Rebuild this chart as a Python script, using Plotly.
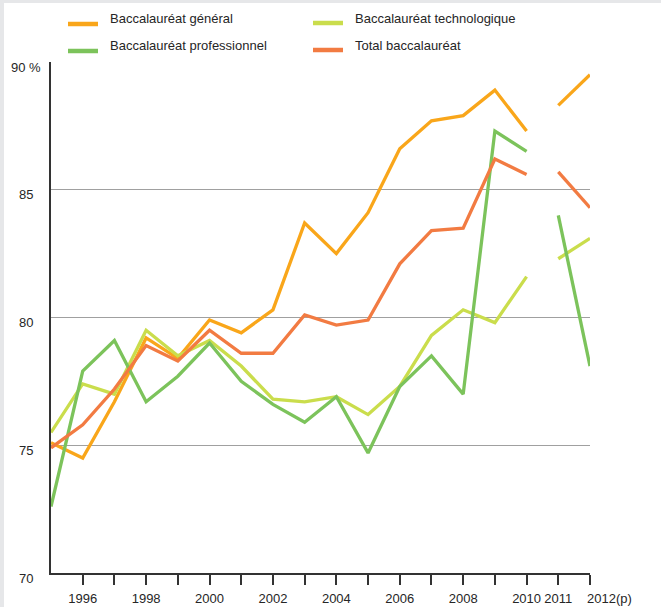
import plotly.graph_objects as go

years = list(range(1995, 2013))
split_year = 2011  # lines break between 2010 and 2011

general = [75.1, 74.5, 76.7, 79.2, 78.4, 79.9, 79.4, 80.3, 83.7, 82.5, 84.1, 86.6, 87.7, 87.9, 88.9, 87.3, 88.3, 89.5]
technologique = [75.5, 77.4, 77.0, 79.5, 78.5, 79.1, 78.1, 76.8, 76.7, 76.9, 76.2, 77.3, 79.3, 80.3, 79.8, 81.6, 82.3, 83.1]
professionnel = [72.6, 77.9, 79.1, 76.7, 77.7, 79.0, 77.5, 76.6, 75.9, 76.9, 74.7, 77.3, 78.5, 77.0, 87.3, 86.5, 84.0, 78.1]
total = [74.9, 75.8, 77.2, 78.9, 78.3, 79.5, 78.6, 78.6, 80.1, 79.7, 79.9, 82.1, 83.4, 83.5, 86.2, 85.6, 85.7, 84.3]

series_names = ["Baccalauréat général", "Baccalauréat technologique",
                "Baccalauréat professionnel", "Total baccalauréat"]
series_values = [general, technologique, professionnel, total]
colors = ["#F9A61A", "#CADD4C", "#7CC35B", "#F27B42"]

NB = "\u00a0"
x_tickvals = list(range(1996, 2013))
x_ticktext = ["1996", "", "1998", "", "2000", "", "2002", "", "2004", "", "2006", "",
              "2008", "", "2010", "2011", ""]
last_label_year = 2012
last_label = "2012(p)"
y_tickvals = [70, 75, 80, 85, 90]
y_ticktext = ["70" + NB * 2, "75" + NB * 2, "80" + NB * 2, "85" + NB * 2, "90 %"]

FONT = "Liberation Sans, Arial, sans-serif"
TXT = "#262626"
FS = 13

W, H = 661, 607
L, R, T, B = 51, 71, 62, 34
PW, PH = W - L - R, H - T - B


def fx(px):
    return (px - L) / PW


def fy(py):
    return (H - B - py) / PH


fig = go.Figure()
k = years.index(split_year)
for name, vals, col in zip(series_names, series_values, colors):
    fig.add_trace(go.Scatter(x=years[:k], y=vals[:k], mode="lines", name=name,
                             line=dict(color=col, width=3.3), showlegend=False))
    fig.add_trace(go.Scatter(x=years[k:], y=vals[k:], mode="lines", name=name,
                             line=dict(color=col, width=3.3), showlegend=False))

shapes = []
annotations = []
# grey page bands (top and left)
shapes.append(dict(type="rect", xref="paper", yref="paper", x0=fx(0), x1=fx(W), y0=fy(3), y1=fy(-2),
                   fillcolor="#E6E7E9", line=dict(width=0), layer="above"))
shapes.append(dict(type="rect", xref="paper", yref="paper", x0=fx(-2), x1=fx(4), y0=fy(H + 2), y1=fy(-2),
                   fillcolor="#E6E7E9", line=dict(width=0), layer="above"))

# manual legend
legend_pos = [(68, 24, 108, 18), (313, 23, 353, 18), (68, 51, 108, 45), (313, 50, 353, 45)]
for (sx, sy, tx, ty), name, col in zip(legend_pos, series_names, colors):
    shapes.append(dict(type="line", xref="paper", yref="paper", x0=fx(sx), x1=fx(sx + 30),
                       y0=fy(sy), y1=fy(sy), line=dict(color=col, width=4.5)))
    annotations.append(dict(xref="paper", yref="paper", x=fx(tx), y=fy(ty), text=name,
                            showarrow=False, xanchor="left", yanchor="middle",
                            font=dict(family=FONT, size=FS, color=TXT)))

# last x label (offset to the right of its tick, as in the original)
annotations.append(dict(xref="x", yref="paper", x=last_label_year, y=fy(598), text=last_label,
                        showarrow=False, xanchor="left", yanchor="middle", xshift=-5,
                        font=dict(family=FONT, size=FS, color=TXT)))

fig.update_layout(
    width=W, height=H,
    margin=dict(l=L, r=R, t=T, b=B, autoexpand=False),
    paper_bgcolor="white", plot_bgcolor="white",
    shapes=shapes, annotations=annotations,
    font=dict(family=FONT, size=FS, color=TXT),
)
fig.update_xaxes(range=[1995, 2012], tickmode="array", tickvals=x_tickvals, ticktext=x_ticktext,
                 showgrid=False, zeroline=False, showline=True, linecolor="#333333", linewidth=1.5,
                 ticks="outside", ticklen=10, tickwidth=1.5, tickcolor="#333333",
                 tickangle=0, automargin=False, ticklabelstandoff=3,
                 tickfont=dict(family=FONT, size=FS, color=TXT))
fig.update_yaxes(range=[70, 90], tickmode="array", tickvals=y_tickvals, ticktext=y_ticktext,
                 showgrid=True, gridcolor="#A0A0A0", gridwidth=1.2, zeroline=False,
                 showline=True, linecolor="#333333", linewidth=1.5, ticks="",
                 ticklabelstandoff=6, ticklabelshift=5, automargin=False,
                 tickfont=dict(family=FONT, size=FS, color=TXT))

fig.write_html("out.html", config={"displayModeBar": False},
               post_script="document.body.style.margin='0';document.body.style.overflow='hidden';")
